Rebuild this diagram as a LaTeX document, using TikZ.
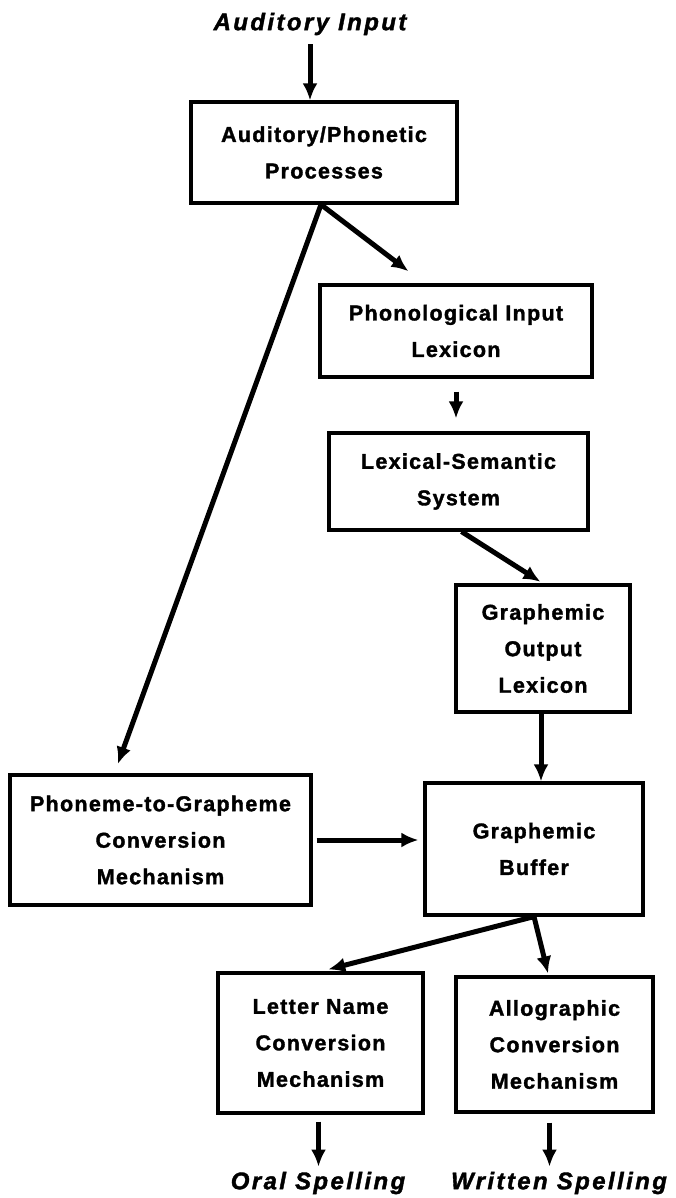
\documentclass[tikz,border=0pt]{standalone}
\usepackage{fontspec}
\setmainfont{Liberation Sans}
\newfontfamily\boxfont[LetterSpace=6,BoldFeatures={FakeBold=1.6}]{Liberation Sans}
\newfontfamily\labfont[LetterSpace=10,BoldItalicFeatures={FakeBold=1.6}]{Liberation Sans}
\usetikzlibrary{arrows.meta}

\begin{document}
\begin{tikzpicture}[x=1pt,y=-1pt,>={Latex[length=17pt,width=15pt]}]
  \tikzstyle{module}=[rectangle,draw=black,line width=3.2pt,align=center,inner sep=0pt,
  font=\boxfont\bfseries\fontsize{21.5}{36.5}\selectfont]
  \tikzstyle{io}=[inner sep=0pt,font=\labfont\bfseries\itshape\fontsize{24}{28}\selectfont]
  \tikzstyle{flow}=[line width=5pt,->]

  \useasboundingbox (0,0) rectangle (676,1198);

    \node [io] (in) at (310,24) {Auditory Input};
    \node [module,minimum width=266pt,minimum height=101pt] (proc) at (324,152.5) {Auditory/Phonetic\\Processes};
    \node [module,minimum width=272pt,minimum height=92pt] (pil) at (456,331) {Phonological Input\\Lexicon};
    \node [module,minimum width=259pt,minimum height=97pt] (lss) at (458.5,481.5) {Lexical-Semantic\\System};
    \node [module,minimum width=174pt,minimum height=127pt] (gol) at (543,648.5) {Graphemic\\Output\\Lexicon};
    \node [module,minimum width=301pt,minimum height=130pt] (pgc) at (160.5,840) {Phoneme-to-Grapheme\\Conversion\\Mechanism};
    \node [module,minimum width=218pt,minimum height=132pt] (gb) at (534,849) {Graphemic\\Buffer};
    \node [module,minimum width=205pt,minimum height=140pt] (lnc) at (320.5,1043) {Letter Name\\Conversion\\Mechanism};
    \node [module,minimum width=197pt,minimum height=135pt] (acm) at (554.5,1044.5) {Allographic\\Conversion\\Mechanism};
    \node [io] (oral) at (318,1183) {Oral Spelling};
    \node [io] (written) at (559,1183) {Written Spelling};
    \coordinate (fork) at ([xshift=-3pt]proc.south);

\draw [flow] (in.south) ++(0,-9pt) -- (in.south |- proc.north);
\draw [flow] (fork) -- ([xshift=106pt]pil.north west) [shorten >=20pt];
\draw [flow,shorten >=10pt] (fork) -- ([xshift=106pt]pgc.north west);
\draw [flow,shorten <=13pt,shorten >=13pt] (pil.south) -- (pil.south |- lss.north);
\draw [flow,shorten >=3pt] ([xshift=3pt]lss.south) -- (gol.north);
\draw [flow] ([xshift=-2pt]gol.south) -- ([xshift=-2pt]gol.south |- gb.north);
\draw [flow,shorten <=4pt,shorten >=5pt] (pgc.east) -- (pgc.east -| gb.west);
\draw [flow,shorten >=8pt] (gb.south) -- (lnc.north);
\draw [flow,shorten >=2pt] (gb.south) -- ([xshift=-6pt]acm.north);
\draw [flow,shorten <=7pt,shorten >=5pt] ([xshift=-2pt]lnc.south) -- ([xshift=-2pt]lnc.south |- oral.north);
\draw [flow,shorten <=9pt,shorten >=5pt] ([xshift=-5pt]acm.south) -- ([xshift=-5pt]acm.south |- written.north);
\end{tikzpicture}
\end{document}
